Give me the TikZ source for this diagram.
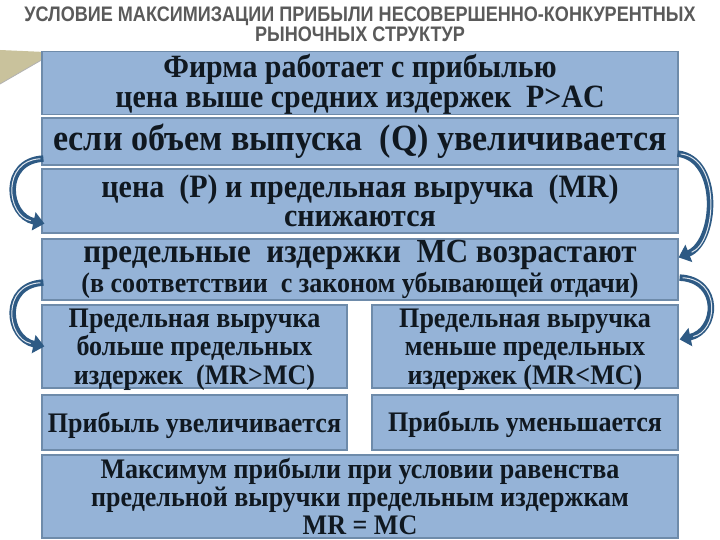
\documentclass[tikz,border=0pt]{standalone}
\usepackage{fontspec}
\setmainfont{Liberation Serif}[FakeStretch=0.92]
\newfontfamily\titlefont{Liberation Sans}[FakeStretch=0.86]
\usetikzlibrary{arrows.meta}
\definecolor{boxfill}{HTML}{95B3D7}
\definecolor{boxline}{HTML}{6E8BAA}
\definecolor{arrowc}{HTML}{2E5A84}
\definecolor{txt}{HTML}{101820}
\definecolor{ttl}{HTML}{5A5A5A}
\definecolor{wedge}{HTML}{C9C29C}
\newcommand{\fs}[2]{\fontsize{#1}{#2}\selectfont}
\newcommand{\topstrut}[1]{\rule{0pt}{#1}}
\begin{document}
\begin{tikzpicture}[x=1pt,y=-1pt,
  box/.style={draw=boxline, line width=1.2pt, fill=boxfill, inner sep=0pt, align=center, text=txt},
  titletext/.style={anchor=base, text=ttl, font=\titlefont\bfseries\fs{21}{24}},
  curvarrow/.style={draw=arrowc, line width=6.5pt, -{Triangle[length=11pt,width=18pt]}},
  hilite/.style={draw=white!85!arrowc, line width=1pt, shorten <=3pt, shorten >=14pt}]
\useasboundingbox (0,0) rectangle (720,540);
\fill[white] (0,0) rectangle (720,540);
% decorative wedge
\fill[wedge] (0,50) -- (45,52) -- (45,58) -- (0,84) -- cycle;
\draw[gray!60, line width=0.8pt] (0,84) -- (45,58);
% title
\node[titletext] (t1) at (360,22) {УСЛОВИЕ МАКСИМИЗАЦИИ ПРИБЫЛИ НЕСОВЕРШЕННО-КОНКУРЕНТНЫХ};
\node[titletext] (t2) at (360,42) {РЫНОЧНЫХ СТРУКТУР};
% boxes
\node[box, minimum width=636pt, minimum height=60pt, font=\bfseries\fs{32.5}{30}] (b1) at (360,83)
  {\topstrut{26pt}Фирма работает с прибылью\\цена выше средних издержек\ \ P>AC};
\node[box, minimum width=636pt, minimum height=47pt, font=\bfseries\fs{37}{36}] (b2) at (360,141.5)
  {если объем выпуска\ \ (Q) увеличивается};
\node[box, minimum width=636pt, minimum height=64pt, font=\bfseries\fs{32.6}{29.5}] (b3) at (360,201)
  {цена\ \ (P) и предельная выручка\ \ (MR)\\снижаются};
\node[box, minimum width=636pt, minimum height=61pt, font=\bfseries\fs{33.7}{30}] (b4) at (360,269.5)
  {предельные\ \ издержки\ \ MC возрастают\\{\fs{28.3}{29}(в соответствии\ \ с законом убывающей отдачи)}};
\node[box, minimum width=305pt, minimum height=83pt, text depth=0pt, font=\bfseries\fs{28.3}{28.5}] (b5l) at (194.5,346.5)
  {Предельная выручка\\больше предельных\\издержек\ \ (MR>MC)};
\node[box, minimum width=306pt, minimum height=83pt, text depth=0pt, font=\bfseries\fs{28.3}{28.5}] (b5r) at (525,346.5)
  {Предельная выручка\\меньше предельных\\издержек (MR<MC)};
\node[box, minimum width=305pt, minimum height=55pt, font=\bfseries\fs{28.3}{28}] (b6l) at (194.5,422.5)
  {\topstrut{27pt}Прибыль увеличивается};
\node[box, minimum width=306pt, minimum height=55pt, font=\bfseries\fs{28.3}{28}] (b6r) at (525,422.5)
  {\topstrut{25pt}Прибыль уменьшается};
\node[box, minimum width=636pt, minimum height=83pt, font=\bfseries\fs{28.3}{28}] (b7) at (360,496.5)
  {Максимум прибыли при условии равенства\\предельной выручки предельным издержкам\\MR = MC};
% curved arrows
\coordinate (a1s) at ([xshift=2pt,yshift=7pt]b2.south west);
\coordinate (a1e) at ([xshift=3pt,yshift=10pt]b3.south west);
\draw[curvarrow] (a1s) .. controls +(-42,2) and +(-38,-8) .. (a1e);
\draw[hilite] (a1s) .. controls +(-42,2) and +(-38,-8) .. (a1e);
\coordinate (a2s) at ([xshift=2pt,yshift=18pt]b4.south west);
\coordinate (a2e) at ([xshift=3pt,yshift=-42pt]b5l.north west);
\draw[curvarrow] (a2s) .. controls +(-42,2) and +(-38,-8) .. (a2e);
\draw[hilite] (a2s) .. controls +(-42,2) and +(-38,-8) .. (a2e);
\coordinate (a3s) at ([xshift=-1pt,yshift=12pt]b2.south east);
\coordinate (a3e) at ([xshift=0pt,yshift=-19pt]b4.north east);
\draw[curvarrow] (a3s) .. controls +(44,5) and +(38,-15) .. (a3e);
\draw[hilite] (a3s) .. controls +(44,5) and +(38,-15) .. (a3e);
\coordinate (a4s) at ([xshift=1pt,yshift=23pt]b4.south east);
\coordinate (a4e) at ([xshift=1pt,yshift=-35pt]b5r.north east);
\draw[curvarrow] (a4s) .. controls +(42,2) and +(38,-8) .. (a4e);
\draw[hilite] (a4s) .. controls +(42,2) and +(38,-8) .. (a4e);
\end{tikzpicture}
\end{document}
